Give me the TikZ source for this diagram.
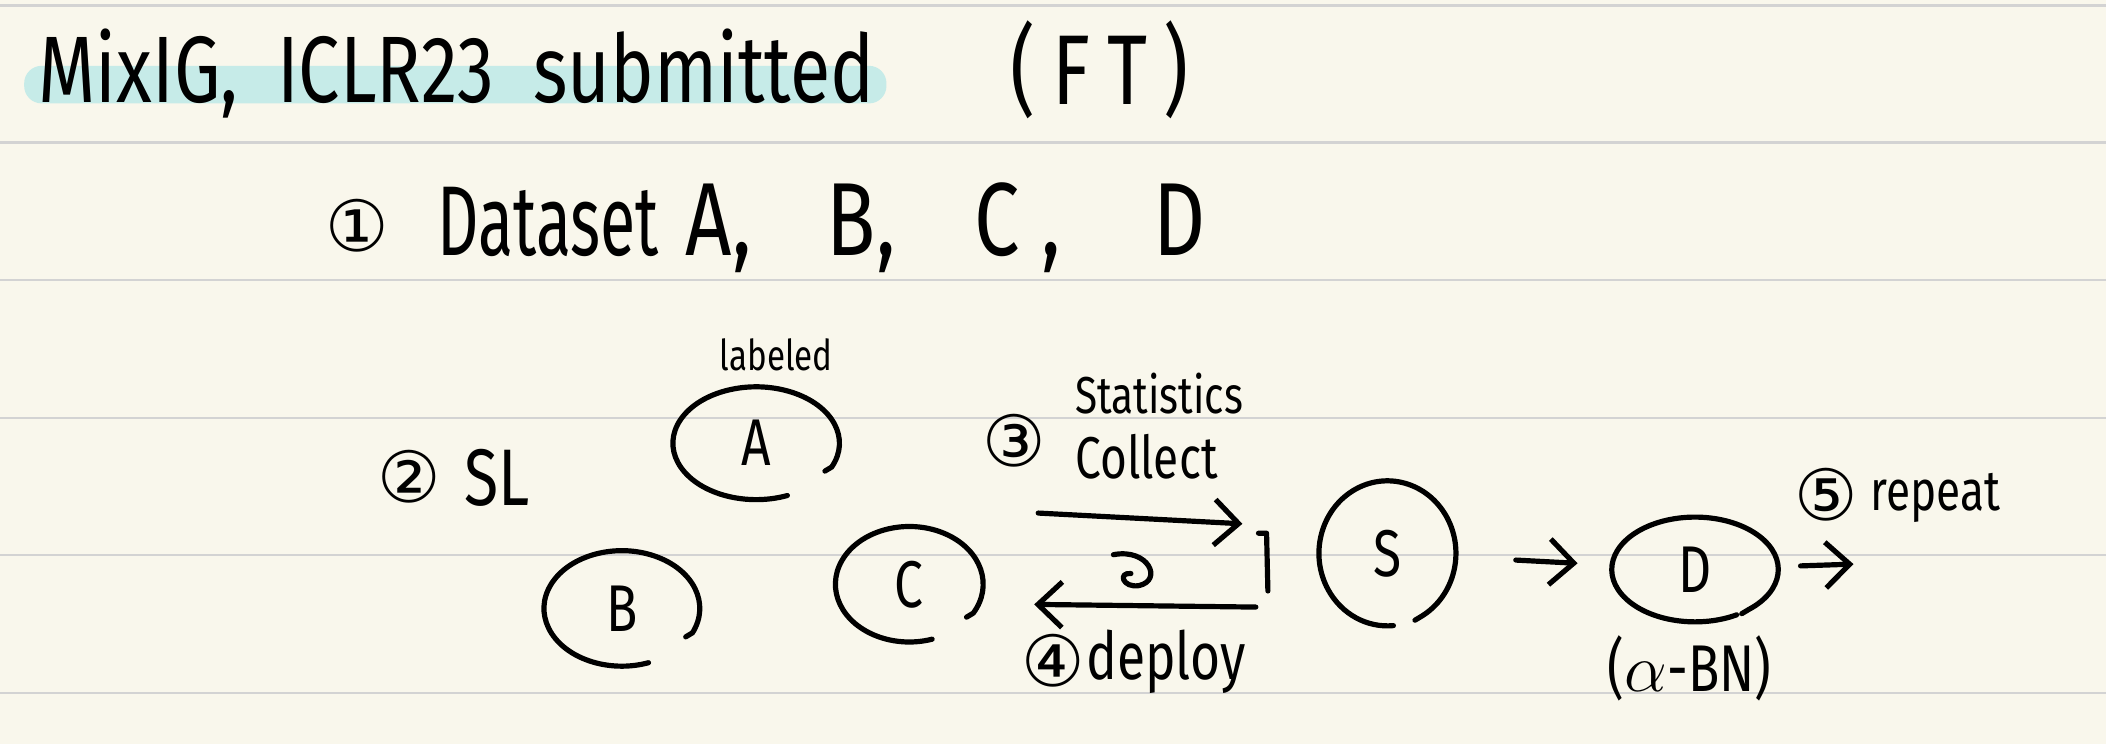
\documentclass[tikz,border=0pt]{standalone}
\usepackage{fontspec}
\usetikzlibrary{arrows.meta,shapes.geometric}
\newfontfamily\handfont[FakeStretch=0.78]{Fira Sans}
\newfontfamily\tallfont[FakeStretch=0.65]{Fira Sans}
\newfontfamily\symfont{DejaVu Sans}
\definecolor{paper}{HTML}{F9F7EC}
\definecolor{rule}{HTML}{D3D3D3}
\definecolor{marker}{HTML}{C6EBE8}
\newcommand{\openring}[5]{\draw[ink] (#1.center) ++(#4:#2 and #3) ++(-5,-3) -- ++(5,3) arc[start angle=#4, end angle=#5, x radius=#2, y radius=#3];}
\begin{document}
\begin{tikzpicture}[x=0.1mm, y=0.1mm, line cap=round, line join=round, >={Straight Barb[length=1.8mm,width=3.4mm]}]
	\tikzset{ink/.style={line width=1.1pt}, hand/.style={font=\handfont\fontsize{#1}{#1}\selectfont, inner sep=0pt},
		ring/.style={ellipse, inner sep=0pt, font=\handfont\fontsize{14}{14}\selectfont},
		num/.style={font=\symfont\fontsize{15}{15}\selectfont, inner sep=0pt}}
	\fill[paper] (0,0) rectangle (1568,-554);
	\useasboundingbox (0,0) rectangle (1568,-554);
	\foreach \y in {4,106,208.5,311,413,516} \draw[rule, line width=0.5pt] (0,-\y) -- (1568,-\y);
	\fill[marker, rounded corners=1.3mm] (18,-49) rectangle (660,-77);
	\node[hand=20, anchor=base west] (title) at (28,-76) {MixIG,\ \ ICLR23\ \ submitted};
	\node[hand=21, anchor=base west] (ft) at (752,-78) {(\,F\,T\,)};
	\node[num] (n1) at (266,-168) {①};
	\node[font=\tallfont\fontsize{21}{21}\selectfont, inner sep=0pt, anchor=base west] (data) at (325,-190) {Dataset};
	\node[hand=22, anchor=base west] (da) at (510,-190) {A,};
	\node[hand=22, anchor=base west] (db) at (615,-190) {B,};
	\node[hand=22, anchor=base west] (dc) at (725,-190) {C\ ,};
	\node[hand=22, anchor=base west] (dd) at (858,-190) {D};
	\node[ring, minimum width=12.4mm, minimum height=8.4mm] (A) at (563,-330) {A};
	\node[ring, minimum width=11.6mm, minimum height=8.6mm] (B) at (463,-453) {B};
	\node[ring, minimum width=11mm, minimum height=8.6mm] (C) at (677,-435) {C};
	\node[ring, minimum width=10.2mm, minimum height=10.8mm] (S) at (1033,-412) {S};
	\node[ring, minimum width=12.4mm, minimum height=7.8mm] (D) at (1262,-424) {D};
	\openring{A}{62}{42}{-25}{292}
	\openring{B}{58}{43}{-25}{290}
	\openring{C}{55}{43}{-30}{288}
	\openring{S}{51}{54}{-60}{275}
	\openring{D}{62}{39}{-50}{300}
	\node[hand=9] (lab) at (578,-264) {labeled};
	\node[num] (n2) at (305,-355) {②};
	\node[hand=17, anchor=base west] (sl) at (345,-376) {SL};
	\node[hand=11, anchor=base west] (stat) at (800,-308) {Statistics};
	\node[num] (n3) at (755,-328) {③};
	\node[hand=12.5, anchor=base west] (coll) at (800,-356) {Collect};
	\coordinate (colL) at (773,-382);
	\coordinate (colR) at (925,-390);
	\coordinate (depR) at (935,-452);
	\coordinate (depL) at (770,-450);
	\coordinate (brkT) at (937,-397);
	\coordinate (brkB) at (944,-440);
	\draw[ink, ->] (colL) -- (colR);
	\draw[ink, ->] (depR) -- (depL);
	\draw[ink] (brkT) -- ++(6,0) -- (brkB);
	\draw[ink] (829,-413) .. controls (855,-408) and (866,-432) .. (848,-436) .. controls (836,-438) and (832,-426) .. (842,-427);
	\node[num] (n4) at (784,-492) {④};
	\node[hand=14, anchor=base west] (dep) at (808,-506) {deploy};
	\draw[ink, ->, shorten <=4.4mm, shorten >=2.5mm] (S) -- (D);
	\coordinate (out) at (1380,-420);
	\draw[ink, ->, shorten <=1.6mm] (D) -- (out);
	\node[hand=14] (abn) at (1258,-498) {($\alpha$-BN)};
	\node[num] (n5) at (1360,-368) {⑤};
	\node[hand=12, anchor=base west] (rep) at (1392,-380) {repeat};
\end{tikzpicture}
\end{document}
